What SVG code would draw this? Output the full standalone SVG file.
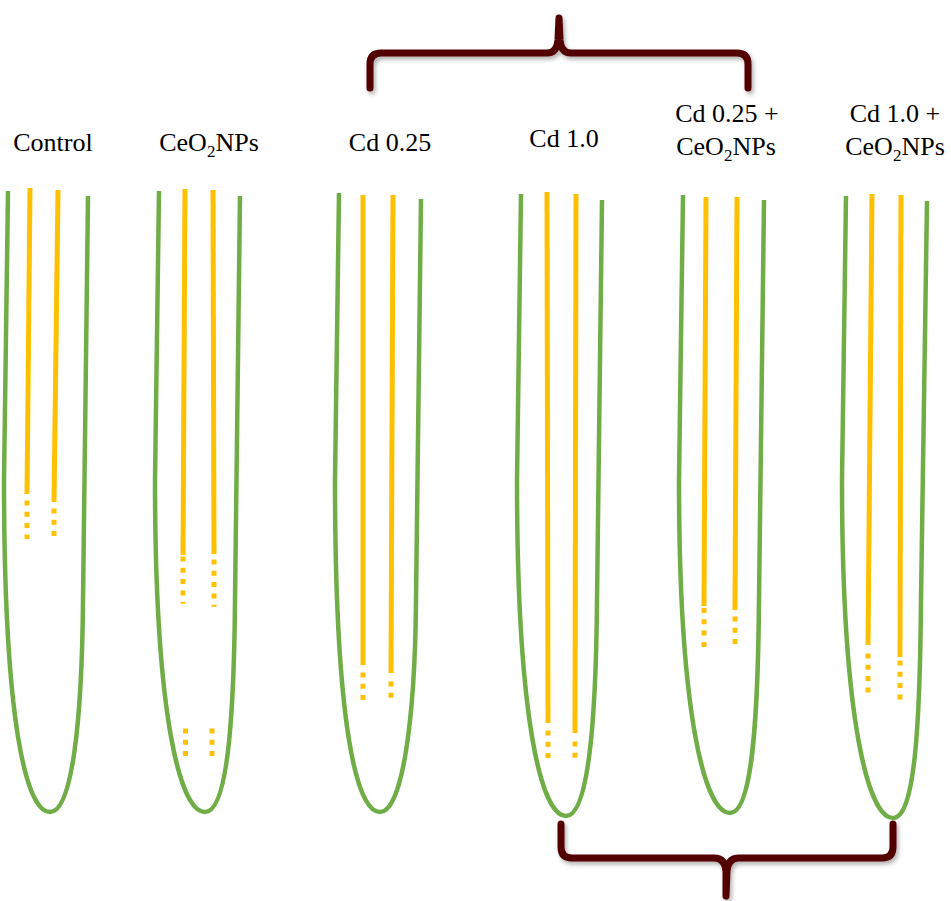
<svg xmlns="http://www.w3.org/2000/svg" width="951" height="901" viewBox="0 0 951 901">
  <defs>
    <style>
      .root { fill: none; stroke: #70AD47; stroke-width: 4.5; stroke-linejoin: round; }
      .stele { fill: none; stroke: #FFC000; stroke-width: 5; }
      .dots { fill: none; stroke: #FFC000; stroke-width: 5; stroke-dasharray: 5 6.3; }
      .brace { fill: none; stroke: #530000; stroke-width: 7; stroke-linecap: round; stroke-linejoin: round; filter: url(#shade); }
      .label { font-size: 26px; fill: #000; text-anchor: middle; }
      .sub { font-size: 17px; }
    </style>
    <filter id="shade" x="-10%" y="-30%" width="120%" height="160%">
      <feDropShadow dx="2" dy="3" stdDeviation="2" flood-color="#000" flood-opacity="0.3"/>
    </filter>
  </defs>

  <!-- group braces -->
  <g id="connectors">
    <path class="brace" d="M370 88 L370 64 Q370 53 381 53 L547 53 Q557 53 558 40 L559 18 L560 40 Q561 53 571 53 L737 53 Q748 53 748 64 L748 88"/>
    <path class="brace" d="M561 824 L561 847 Q561 858 572 858 L714 858 Q725 858 726 871 L726 896 L727 871 Q728 858 739 858 L882 858 Q893 858 893 847 L893 824"/>
  </g>

  <g font-family="'Liberation Serif', 'DejaVu Serif', 'Times New Roman', serif">
  <!-- Control -->
  <g id="control">
    <text class="label" x="53" y="151">Control</text>
    <path class="root" d="M8 191 L4 480 C4 722 26 812 50 812 C72 812 82 722 83 600 L88 196"/>
    <line class="stele" x1="30" y1="188" x2="27" y2="494"/>
    <line class="dots" x1="27" y1="500.5" x2="27" y2="539"/>
    <line class="stele" x1="58" y1="190" x2="54" y2="502"/>
    <line class="dots" x1="54" y1="508.5" x2="54" y2="536"/>
  </g>

  <!-- CeO2NPs -->
  <g id="ceo2nps">
    <text class="label" x="209" y="151">CeO<tspan class="sub" dy="6">2</tspan><tspan dy="-6">NPs</tspan></text>
    <path class="root" d="M159 191 L155 480 C155 722 181 812 205 812 C227 812 234 722 235 600 L240 196"/>
    <line class="stele" x1="185" y1="189" x2="183" y2="555"/>
    <line class="dots" x1="183" y1="556.5" x2="183" y2="603.7"/>
    <line class="stele" x1="213" y1="190" x2="214" y2="554"/>
    <line class="dots" x1="214" y1="559.5" x2="214" y2="606.7"/>
    <line class="dots" x1="185.5" y1="728.5" x2="185.5" y2="756.5"/>
    <line class="dots" x1="212" y1="728.5" x2="212" y2="756.5"/>
  </g>

  <!-- Cd 0.25 -->
  <g id="cd025">
    <text class="label" x="390" y="151">Cd 0.25</text>
    <path class="root" d="M339 193 L335 480 C335 722 356 812 380 812 C402 812 415 722 416 600 L421 199"/>
    <line class="stele" x1="363" y1="195" x2="363" y2="665"/>
    <line class="dots" x1="363" y1="672.5" x2="363" y2="700"/>
    <line class="stele" x1="393" y1="195" x2="391" y2="673"/>
    <line class="dots" x1="391" y1="681.5" x2="391" y2="698"/>
  </g>

  <!-- Cd 1.0 -->
  <g id="cd10">
    <text class="label" x="564" y="147">Cd 1.0</text>
    <path class="root" d="M521 194 L517 480 C517 724 542 816 566 816 C588 816 596 724 597 600 L602 200"/>
    <line class="stele" x1="547" y1="192" x2="548" y2="723"/>
    <line class="dots" x1="548" y1="730.5" x2="548" y2="758"/>
    <line class="stele" x1="576" y1="194" x2="575" y2="733"/>
    <line class="dots" x1="575" y1="741.5" x2="575" y2="758"/>
  </g>

  <!-- Cd 0.25 + CeO2NPs -->
  <g id="cd025-ceo2nps">
    <text class="label" x="727" y="122">Cd 0.25 +</text>
    <text class="label" x="726" y="155">CeO<tspan class="sub" dy="6">2</tspan><tspan dy="-6">NPs</tspan></text>
    <path class="root" d="M683 195 L679 480 C679 722 706 813 730 813 C752 813 758 722 759 600 L764 200"/>
    <line class="stele" x1="706" y1="197" x2="704" y2="606"/>
    <line class="dots" x1="704" y1="608" x2="704" y2="647"/>
    <line class="stele" x1="737" y1="197" x2="735" y2="610"/>
    <line class="dots" x1="735" y1="616.5" x2="735" y2="644"/>
  </g>

  <!-- Cd 1.0 + CeO2NPs -->
  <g id="cd10-ceo2nps">
    <text class="label" x="895" y="122">Cd 1.0 +</text>
    <text class="label" x="895" y="155">CeO<tspan class="sub" dy="6">2</tspan><tspan dy="-6">NPs</tspan></text>
    <path class="root" d="M846 196 L842 480 C842 724 869 818 893 818 C915 818 920 724 921 600 L927 201"/>
    <line class="stele" x1="872" y1="194" x2="868" y2="645"/>
    <line class="dots" x1="868" y1="653.5" x2="868" y2="692.5"/>
    <line class="stele" x1="901" y1="195" x2="900" y2="657"/>
    <line class="dots" x1="900" y1="660.5" x2="900" y2="699.5"/>
  </g>
  </g>
</svg>
